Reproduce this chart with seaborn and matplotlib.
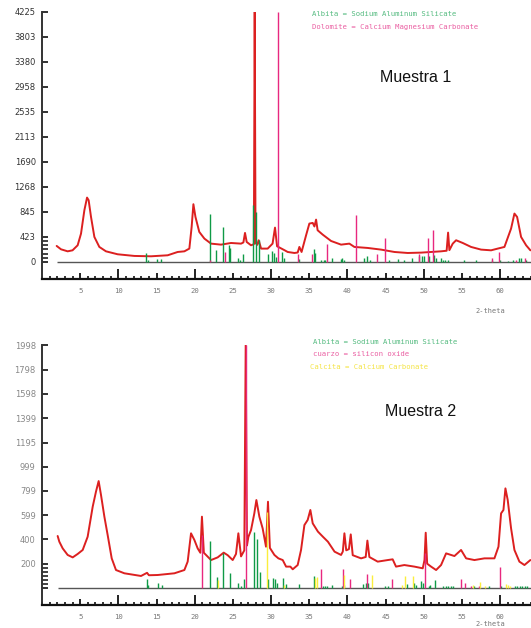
import matplotlib
matplotlib.use("Agg")
import matplotlib.pyplot as plt
import seaborn as sns
from matplotlib.ticker import FixedLocator, MultipleLocator

# ---- Muestra 1 : measured pattern (2-theta, counts) ----
m1_theta = [1.92, 2.49, 3.36, 4.00, 4.67, 5.11, 5.55, 5.90, 6.11, 6.42, 6.86, 7.51, 8.38, 9.91,
            12.10, 14.28, 16.46, 17.77, 18.65, 19.30, 19.60, 19.83, 20.10, 20.60, 21.27, 22.14,
            23.45, 24.76, 26.07, 26.38, 26.59, 26.81, 27.38, 27.75, 27.86, 27.97, 28.20, 28.38,
            28.70, 29.56, 30.20, 30.52, 30.79, 31.31, 31.75, 32.18, 33.06, 33.49, 33.71, 34.00,
            34.59, 35.02, 35.46, 35.68, 35.90, 36.10, 36.77, 37.86, 39.17, 40.26, 40.92, 42.66,
            44.41, 46.16, 47.90, 49.65, 52.27, 53.00, 53.19, 53.36, 53.80, 54.24, 55.11, 56.20,
            57.51, 58.82, 59.69, 60.57, 61.44, 61.88, 62.23, 62.75, 63.41, 63.97]
m1_counts = [271, 214, 180, 197, 282, 479, 874, 1088, 1043, 761, 423, 254, 180, 130,
             102, 96, 113, 169, 180, 226, 592, 976, 761, 508, 395, 310,
             293, 321, 310, 330, 491, 338, 282, 300, 4225, 320, 290, 367,
             226, 226, 310, 581, 265, 230, 200, 169, 152, 160, 254, 169,
             451, 649, 660, 600, 716, 536, 462, 355, 293, 310, 254, 237,
             209, 169, 152, 158, 180, 190, 496, 200, 310, 367, 321, 254,
             209, 197, 226, 254, 564, 818, 761, 423, 282, 197]

# reference lines, Muestra 1
m1_albita_pos = [13.67, 13.85, 15.10, 15.60, 21.96, 22.84, 23.67, 24.45, 24.60, 25.63, 25.98,
                 26.38, 27.68, 28.03, 28.47, 29.56, 30.13, 30.35, 30.65, 31.44, 31.74, 33.71,
                 35.59, 35.76, 36.55, 36.90, 37.10, 37.95, 39.10, 39.35, 39.60, 42.14, 42.57,
                 43.00, 45.40, 46.60, 47.40, 48.51, 49.34, 49.80, 50.00, 50.70, 51.40, 51.60,
                 52.20, 52.50, 52.80, 53.20, 55.25, 56.80, 59.00, 60.00, 61.00, 61.75, 62.50,
                 62.80, 63.40]
m1_albita_int = [159, 40, 57, 45, 819, 198, 592, 282, 230, 74, 40,
                 141, 959, 846, 367, 130, 186, 150, 80, 169, 60, 50,
                 226, 150, 40, 30, 30, 62, 45, 60, 40, 74, 96,
                 30, 30, 45, 30, 74, 96, 96, 96, 96, 115, 60,
                 60, 30, 40, 40, 30, 30, 30, 40, 20, 40, 60,
                 60, 40]
m1_dolomite_pos = [22.05, 24.00, 30.91, 33.49, 35.33, 37.37, 41.13, 43.84, 44.97, 49.34, 50.52,
                   51.18, 58.95, 59.90, 62.10, 63.30]
m1_dolomite_int = [40, 169, 4225, 141, 130, 299, 795, 130, 412, 141, 412,
                   537, 60, 169, 40, 60]

# ---- Muestra 2 ----
m2_theta = [2.05, 2.27, 2.71, 3.36, 4.02, 4.67, 5.33, 5.98, 6.64, 7.07, 7.42, 7.73, 8.17, 8.60,
            9.13, 9.69, 10.79, 12.97, 13.76, 14.00, 15.15, 17.34, 18.65, 19.08, 19.52, 19.96,
            20.39, 20.74, 20.95, 21.20, 22.14, 23.01, 23.80, 24.32, 24.98, 25.41, 25.72, 26.07,
            26.50, 26.68, 26.85, 27.03, 27.38, 27.81, 28.08, 28.47, 28.90, 29.34, 29.60, 29.85,
            30.44, 30.96, 31.53, 31.97, 32.53, 32.84, 33.49, 33.93, 34.37, 34.80, 35.15, 35.46,
            36.14, 36.79, 37.45, 38.32, 39.17, 39.40, 39.61, 39.85, 40.20, 40.44, 40.70, 41.79,
            42.40, 42.62, 42.88, 43.97, 45.28, 45.93, 46.37, 47.46, 48.78, 49.87, 50.10, 50.26,
            50.45, 50.96, 51.62, 52.27, 52.93, 54.02, 54.89, 55.55, 56.64, 57.95, 59.26, 59.79,
            60.13, 60.44, 60.70, 61.00, 61.44, 61.88, 62.53, 63.19, 63.97]
m2_counts = [428, 381, 326, 272, 252, 280, 313, 422, 669, 793, 880, 765, 587, 436,
             244, 148, 121, 99, 125, 105, 107, 121, 148, 217, 450, 395,
             326, 290, 587, 290, 230, 252, 291, 270, 230, 280, 450, 260,
             310, 1998, 350, 420, 477, 614, 724, 587, 491, 340, 710, 330,
             272, 244, 230, 176, 176, 154, 189, 313, 518, 560, 642, 532,
             464, 422, 381, 299, 272, 300, 450, 310, 320, 441, 270, 244,
             255, 390, 255, 217, 230, 236, 176, 189, 176, 162, 230, 455,
             200, 176, 148, 189, 285, 263, 313, 244, 230, 244, 244, 340,
             614, 642, 820, 724, 491, 313, 217, 189, 230]

m2_albita_pos = [13.76, 13.90, 15.24, 15.72, 22.05, 22.88, 23.76, 24.59, 25.70, 26.05, 26.50,
                 27.77, 28.12, 28.60, 29.65, 30.30, 30.55, 30.75, 31.53, 31.90, 33.71, 35.68,
                 36.85, 37.10, 37.35, 38.00, 39.30, 39.60, 42.10, 42.40, 42.75, 44.90, 45.30,
                 47.75, 48.70, 49.05, 49.70, 49.85, 50.65, 50.85, 51.53, 52.50, 52.95, 53.15,
                 53.60, 53.85, 56.60, 58.60, 60.10, 62.00, 62.20, 62.60, 62.90, 63.20, 63.50]
m2_albita_int = [71, 25, 40, 25, 390, 93, 285, 126, 40, 20, 71,
                 464, 403, 134, 71, 80, 71, 40, 80, 30, 30, 99,
                 15, 15, 15, 25, 20, 25, 35, 45, 40, 15, 20,
                 30, 40, 25, 55, 45, 20, 25, 65, 20, 20, 20,
                 20, 20, 20, 15, 20, 20, 20, 20, 20, 20, 20]
m2_cuarzo_pos = [20.92, 26.68, 36.55, 39.48, 40.31, 42.53, 45.85, 50.17, 54.89, 55.35, 56.25,
                 57.25, 59.96]
m2_cuarzo_int = [436, 1998, 159, 156, 74, 115, 74, 285, 77, 40, 15,
                 15, 176]
m2_calcita_pos = [23.00, 29.52, 31.75, 35.80, 35.98, 39.52, 43.19, 47.20, 47.55, 48.56, 56.45,
                  57.40, 58.05, 60.80, 61.05, 61.35]
m2_calcita_int = [66, 628, 25, 80, 88, 107, 107, 25, 99, 99, 25,
                  50, 15, 30, 25, 20]

m1_yticks = [0, 423, 845, 1268, 1690, 2113, 2535, 2958, 3380, 3803, 4225]
m2_yticks = [0, 200, 400, 599, 799, 999, 1195, 1399, 1598, 1798, 1998]
m2_ylabels = [""] + [str(v) for v in m2_yticks[1:]]
x_labelled = [5, 10, 15, 20, 25, 30, 35, 40, 45, 50, 55, 60]

RED = "#dc2020"
GREEN = "#0f9a46"
PINK = "#e8287f"
YELLOW = "#fbee3c"

sns.set_style("white")
plt.rcParams['font.family'] = ['DejaVu Sans']

fig = plt.figure(figsize=(5.31, 6.28), dpi=100)
left = 42 / 531
ax1 = fig.add_axes([left, 0.5557, 1 - left, 0.4253])
ax2 = fig.add_axes([left, 0.0366, 1 - left, 0.4137])


def setup_axes(ax, ylim, yticks, ylabels, ylab_color):
    ax.set_xlim(0, 64.05)
    ax.set_ylim(*ylim)
    for s in ["top", "right"]:
        ax.spines[s].set_visible(False)
    ax.spines["left"].set_color("#333333")
    ax.spines["left"].set_linewidth(1.4)
    ax.spines["bottom"].set_color("#111111")
    ax.spines["bottom"].set_linewidth(1.6)

    ax.set_yticks(yticks)
    ax.set_yticklabels(ylabels)
    step = yticks[1]
    ax.yaxis.set_minor_locator(FixedLocator([step * k / 6 for k in range(1, 6)]))
    ax.tick_params(axis="y", which="both", left=True)
    ax.tick_params(axis="y", which="major", direction="in", length=4, width=1.3,
                   color="#222222", pad=4.5, labelsize=6, labelcolor=ylab_color)
    ax.tick_params(axis="y", which="minor", direction="in", length=4, width=1.2, color="#222222")

    ax.set_xticks(x_labelled)
    ax.set_xticklabels([str(v) for v in x_labelled], family="DejaVu Sans Mono")
    ax.xaxis.set_minor_locator(MultipleLocator(1))
    ax.tick_params(axis="x", which="both", bottom=True)
    ax.tick_params(axis="x", which="major", direction="in", length=4.5, width=1.3,
                   color="#111111", pad=6.5, labelsize=5.2, labelcolor="#777777")
    ax.tick_params(axis="x", which="minor", direction="in", length=2.3, width=1.2, color="#111111")
    for t, v in zip(ax.xaxis.get_major_ticks(), x_labelled):
        if v % 10 == 0:
            t.tick1line.set_markersize(7.5)
    ax.set_xlabel("")
    ax.set_ylabel("")


def draw_sample(ax, theta, counts, sticks):
    sns.lineplot(x=theta, y=counts, ax=ax, color=RED, lw=1.4, sort=False, zorder=2)
    ax.hlines(0, theta[0], 64.05, color="#555555", lw=1.0, zorder=3)
    for pos, inten, col in sticks:
        ax.vlines(pos, 0, inten, colors=col, lw=1.0, zorder=4)


draw_sample(ax1, m1_theta, m1_counts,
            [(m1_albita_pos, m1_albita_int, GREEN), (m1_dolomite_pos, m1_dolomite_int, PINK)])
setup_axes(ax1, (-288, 4225), m1_yticks, [str(v) for v in m1_yticks], "#333333")

draw_sample(ax2, m2_theta, m2_counts,
            [(m2_albita_pos, m2_albita_int, GREEN), (m2_cuarzo_pos, m2_cuarzo_int, PINK),
             (m2_calcita_pos, m2_calcita_int, YELLOW)])
setup_axes(ax2, (-140, 1998), m2_yticks, m2_ylabels, "#888888")

mono = dict(family="DejaVu Sans Mono", fontsize=5.2, va="center", ha="left")
fig.text(312 / 531, 1 - 14 / 628, "Albita = Sodium Aluminum Silicate", color="#55bb80", **mono)
fig.text(312 / 531, 1 - 27 / 628, "Dolomite = Calcium Magnesium Carbonate", color="#ea5fa2", **mono)
fig.text(313 / 531, 1 - 342 / 628, "Albita = Sodium Aluminum Silicate", color="#55bb80", **mono)
fig.text(313 / 531, 1 - 354 / 628, "cuarzo = silicon oxide", color="#ea5fa2", **mono)
fig.text(310 / 531, 1 - 367 / 628, "Calcita = Calcium Carbonate", color="#f4e445", **mono)

fig.text(475 / 531, 1 - 311 / 628, "2-theta", color="#777777", family="DejaVu Sans Mono",
         fontsize=5.0, va="center", ha="left")
fig.text(475 / 531, 1 - 624.5 / 628, "2-theta", color="#777777", family="DejaVu Sans Mono",
         fontsize=5.0, va="center", ha="left")

fig.text(416 / 531, 1 - 78 / 628, "Muestra 1", fontsize=11.5, family="Liberation Sans",
         ha="center", va="center", color="#111111")
fig.text(421 / 531, 1 - 411 / 628, "Muestra 2", fontsize=11.5, family="Liberation Sans",
         ha="center", va="center", color="#111111")

fig.savefig("out.png", dpi=100)
